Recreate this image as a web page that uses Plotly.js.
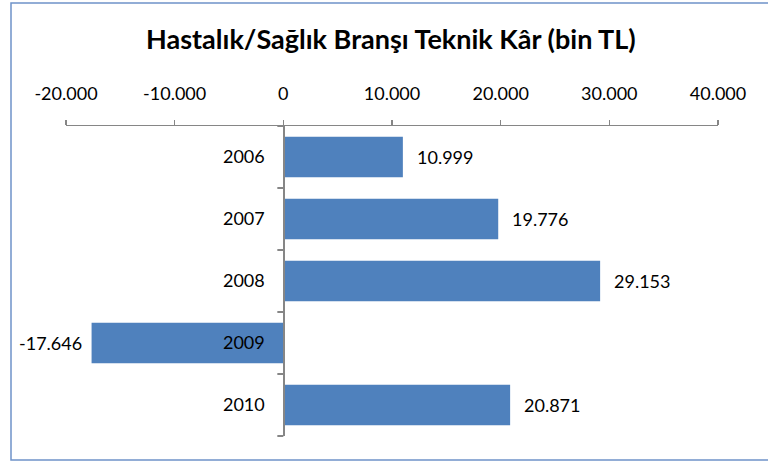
<!DOCTYPE html>
<html>
<head>
<meta charset="utf-8">
<script src="https://cdn.plot.ly/plotly-3.0.1.min.js"></script>
<style>html,body{margin:0;padding:0;background:#fff;}#chart{width:768px;height:462px;}</style>
</head>
<body>
<div id="chart"></div>
<script>
const years = ['2006', '2007', '2008', '2009', '2010'];
const values = [10999, 19776, 29153, -17646, 20871];
const valueLabels = ['10.999', '19.776', '29.153', '-17.646', '20.871'];
const xTickVals = [-20000, -10000, 0, 10000, 20000, 30000, 40000];
const xTickText = ['-20.000', '-10.000', '0', '10.000', '20.000', '30.000', '40.000'];

const FONT = 'Lato, "Open Sans", sans-serif';
const axisColor = '#868686';
const xRange = [-20000, 40000];
const yPos = (0 - xRange[0]) / (xRange[1] - xRange[0]);
const plotW = 768 - 66 - 50;
const plotH = 462 - 126 - 26;

const trace = {
  type: 'bar',
  orientation: 'h',
  y: years,
  x: values,
  marker: {color: '#4F81BD', line: {width: 0}},
  hoverinfo: 'skip'
};

const annotations = values.map((v, i) => ({
  x: v, y: i, xref: 'x', yref: 'y',
  text: valueLabels[i], showarrow: false,
  xanchor: v >= 0 ? 'left' : 'right', yanchor: 'middle',
  xshift: v >= 0 ? 12 : -8,
  font: {family: FONT, size: 18, color: '#000'}
}));

// tick marks on the category axis, at the boundaries between categories
const shapes = [];
for (let i = 0; i <= years.length; i++) {
  const py = 1 - i / years.length;
  shapes.push({
    type: 'line', xref: 'paper', x0: yPos - 6 / plotW, x1: yPos,
    yref: 'paper', y0: py, y1: py,
    line: {color: axisColor, width: 2}, layer: 'above'
  });
}
// chart-area border
shapes.push({
  type: 'rect', xref: 'paper', yref: 'paper',
  x0: (11 - 66) / plotW, x1: (772 - 66) / plotW,
  y0: (436 - 460) / plotH, y1: (436 - 3) / plotH,
  line: {color: '#6f93c9', width: 1.5}, fillcolor: 'rgba(0,0,0,0)',
  layer: 'below'
});

const layout = {
  width: 768, height: 462,
  margin: {l: 66, r: 50, t: 126, b: 26, pad: 0},
  paper_bgcolor: '#fff', plot_bgcolor: '#fff',
  showlegend: false,
  bargap: 0.35,
  font: {family: FONT, size: 18, color: '#000'},
  title: {
    text: 'Hastalık/Sağlık Branşı Teknik Kâr (bin TL)',
    font: {family: FONT, size: 27, color: '#000', weight: 'bold'},
    x: 0.509, xanchor: 'center', xref: 'container',
    y: 1 - 40/462, yanchor: 'middle', yref: 'container'
  },
  xaxis: {
    side: 'top', range: xRange, autorange: false,
    tickvals: xTickVals, ticktext: xTickText,
    ticks: 'outside', ticklen: 5, tickwidth: 1.5, tickcolor: axisColor,
    showline: true, linecolor: axisColor, linewidth: 1.5,
    showgrid: false, zeroline: false,
    ticklabelstandoff: 12,
    tickfont: {family: FONT, size: 18, color: '#000'},
    fixedrange: true
  },
  yaxis: {
    type: 'category', categoryorder: 'array', categoryarray: years,
    range: [years.length - 0.5, -0.5], autorange: false,
    anchor: 'free', position: yPos,
    ticks: '',
    showline: true, linecolor: axisColor, linewidth: 1.5,
    showgrid: false, zeroline: false,
    ticklabelstandoff: 15,
    tickfont: {family: FONT, size: 18, color: '#000'},
    fixedrange: true
  },
  annotations: annotations,
  shapes: shapes
};

Plotly.newPlot('chart', [trace], layout, {displayModeBar: false, staticPlot: true});
</script>
</body>
</html>
